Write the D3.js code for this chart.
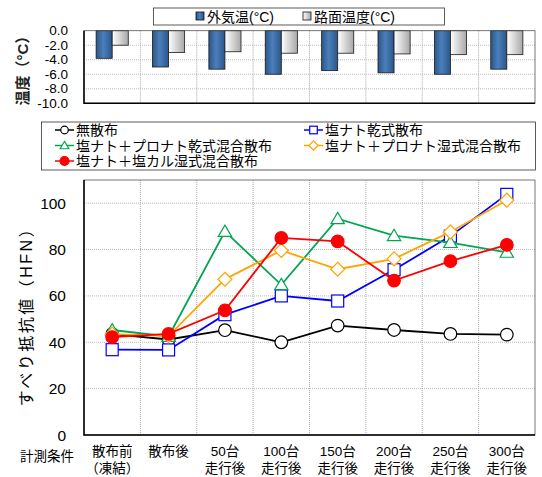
<!DOCTYPE html>
<html>
<head>
<meta charset="utf-8">
<script src="https://cdn.jsdelivr.net/npm/d3@7"></script>
<style>
  body { margin: 0; background: #fff; }
  text { font-family: "Liberation Sans", "Noto Sans CJK JP", sans-serif; }
</style>
</head>
<body>
<div id="chart"></div>
<script>
const categories = ["散布前", "散布後", "50台", "100台", "150台", "200台", "250台", "300台"];
const categories2 = ["（凍結）", "", "走行後", "走行後", "走行後", "走行後", "走行後", "走行後"];

const airTemp = [-3.8, -5.0, -5.3, -6.0, -5.5, -5.8, -6.0, -5.3];
const roadTemp = [-2.0, -3.0, -2.9, -3.1, -3.1, -3.2, -3.3, -3.3];
const tempTicks = [0, -2, -4, -6, -8, -10];

const noSpread = [43.5, 41.2, 45.2, 40.0, 47.2, 45.3, 43.6, 43.3];
const saltDry = [36.8, 36.7, 51.9, 60.0, 57.8, 71.3, 85.8, 103.8];
const saltProDry = [45.3, 42.5, 87.8, 64.8, 93.3, 86.0, 83.0, 78.8];
const saltProWet = [43.5, 42.8, 67.2, 79.6, 71.5, 76.0, 87.6, 101.3];
const saltCalWet = [42.2, 43.6, 53.8, 85.0, 83.5, 66.6, 75.0, 82.0];
const hfnTicks = [0, 20, 40, 60, 80, 100];

const series = [
  {name: "無散布", values: noSpread, color: "#000000", marker: "circle", fill: "#fff"},
  {name: "塩ナト乾式散布", values: saltDry, color: "#0000ff", marker: "square", fill: "#fff"},
  {name: "塩ナト＋プロナト乾式混合散布", values: saltProDry, color: "#00a651", marker: "triangle", fill: "#fff"},
  {name: "塩ナト＋プロナト湿式混合散布", values: saltProWet, color: "#ffa500", marker: "diamond", fill: "#fff"},
  {name: "塩ナト＋塩カル湿式混合散布", values: saltCalWet, color: "#ff0000", marker: "circle", fill: "#ff0000"}
];

const W = 542, H = 477;
const left = 84, right = 535;

const svg = d3.select("#chart").append("svg")
  .attr("width", W).attr("height", H);

const defs = svg.append("defs");
const gBlue = defs.append("linearGradient").attr("id", "gblue");
gBlue.append("stop").attr("offset", "0%").attr("stop-color", "#2c5687");
gBlue.append("stop").attr("offset", "45%").attr("stop-color", "#4a7fbd");
gBlue.append("stop").attr("offset", "100%").attr("stop-color", "#2c5687");
const gGray = defs.append("linearGradient").attr("id", "ggray");
gGray.append("stop").attr("offset", "0%").attr("stop-color", "#ffffff");
gGray.append("stop").attr("offset", "100%").attr("stop-color", "#a8a8a8");

const x = d3.scaleBand().domain(categories).range([left, right]).padding(0);

// ---- top: temperature bars ----
const yT = d3.scaleLinear().domain([-10, 0]).range([103.3, 30.7]);

const topG = svg.append("g");
topG.selectAll(".hgrid").data(tempTicks.slice(1, -1)).enter().append("line")
  .attr("x1", left).attr("x2", right)
  .attr("y1", d => yT(d)).attr("y2", d => yT(d))
  .attr("stroke", "#bbb").attr("stroke-dasharray", "1,1");
topG.selectAll(".vgrid").data(categories.slice(1)).enter().append("line")
  .attr("x1", d => x(d)).attr("x2", d => x(d))
  .attr("y1", yT(0)).attr("y2", yT(-10))
  .attr("stroke", "#aaa").attr("stroke-dasharray", "1,1");

const bw = x.bandwidth() * 0.285;
topG.selectAll(".air").data(airTemp).enter().append("rect")
  .attr("x", (d, i) => x(categories[i]) + x.bandwidth() / 2 - bw)
  .attr("y", yT(0)).attr("width", bw)
  .attr("height", d => yT(d) - yT(0))
  .attr("fill", "url(#gblue)").attr("stroke", "#1a1a1a").attr("stroke-width", 0.8);
topG.selectAll(".road").data(roadTemp).enter().append("rect")
  .attr("x", (d, i) => x(categories[i]) + x.bandwidth() / 2)
  .attr("y", yT(0)).attr("width", bw)
  .attr("height", d => yT(d) - yT(0))
  .attr("fill", "url(#ggray)").attr("stroke", "#1a1a1a").attr("stroke-width", 0.8);

topG.append("rect").attr("x", left).attr("y", yT(0))
  .attr("width", right - left).attr("height", yT(-10) - yT(0))
  .attr("fill", "none").attr("stroke", "#555").attr("stroke-width", 0.8);
topG.append("path")
  .attr("d", `M${left},${yT(0)}V${yT(-10)}H${right}`)
  .attr("fill", "none").attr("stroke", "#000").attr("stroke-width", 1.5);

topG.selectAll(".tt").data(tempTicks).enter().append("text")
  .attr("x", 68).attr("y", d => yT(d) + 4.5)
  .attr("text-anchor", "end").attr("font-size", 13.5)
  .text(d => d.toFixed(1));

topG.append("text")
  .attr("transform", `translate(28,${(yT(0) + yT(-10)) / 2}) rotate(-90)`)
  .attr("text-anchor", "middle").attr("font-size", 15).attr("font-weight", "bold")
  .attr("fill", "#222")
  .text("温度（°C）");

// top legend
const tl = svg.append("g");
tl.append("rect").attr("x", 153.5).attr("y", 8).attr("width", 291).attr("height", 17)
  .attr("fill", "#fff").attr("stroke", "#333").attr("stroke-width", 0.8);
tl.append("rect").attr("x", 196).attr("y", 12).attr("width", 8).attr("height", 8)
  .attr("fill", "url(#gblue)").attr("stroke", "#111").attr("stroke-width", 0.8);
tl.append("text").attr("x", 207).attr("y", 21.5).attr("font-size", 14).text("外気温(°C)");
tl.append("rect").attr("x", 303).attr("y", 12).attr("width", 8).attr("height", 8)
  .attr("fill", "url(#ggray)").attr("stroke", "#111").attr("stroke-width", 0.8);
tl.append("text").attr("x", 314).attr("y", 21.5).attr("font-size", 14).text("路面温度(°C)");

// ---- bottom legend ----
function drawMarker(g, type, cx, cy, color, fill, s) {
  if (type === "circle") {
    g.append("circle").attr("cx", cx).attr("cy", cy).attr("r", s)
      .attr("fill", fill).attr("stroke", color).attr("stroke-width", 1.2);
  } else if (type === "square") {
    g.append("rect").attr("x", cx - s).attr("y", cy - s).attr("width", 2 * s).attr("height", 2 * s)
      .attr("fill", fill).attr("stroke", color).attr("stroke-width", 1.2);
  } else if (type === "triangle") {
    g.append("path").attr("d", `M${cx},${cy - s * 1.1}L${cx + s * 1.15},${cy + s * 0.85}L${cx - s * 1.15},${cy + s * 0.85}Z`)
      .attr("fill", fill).attr("stroke", color).attr("stroke-width", 1.2);
  } else if (type === "diamond") {
    g.append("path").attr("d", `M${cx},${cy - s * 1.2}L${cx + s * 1.2},${cy}L${cx},${cy + s * 1.2}L${cx - s * 1.2},${cy}Z`)
      .attr("fill", fill).attr("stroke", color).attr("stroke-width", 1.2);
  }
}

const bl = svg.append("g");
bl.append("rect").attr("x", 41.5).attr("y", 122).attr("width", 494).attr("height", 48)
  .attr("fill", "#fff").attr("stroke", "#333").attr("stroke-width", 0.8);
const legPos = [[55, 130], [304, 130], [55, 145.5], [304, 145.5], [55, 161]];
series.forEach((s, i) => {
  const [lx, ly] = legPos[i];
  bl.append("line").attr("x1", lx).attr("x2", lx + 19).attr("y1", ly).attr("y2", ly)
    .attr("stroke", s.color).attr("stroke-width", 1.5);
  drawMarker(bl, s.marker, lx + 9.5, ly, s.color, s.fill, s.marker === "circle" && s.fill !== "#fff" ? 4.5 : 3.8);
  bl.append("text").attr("x", lx + 21).attr("y", ly + 5).attr("font-size", 14).text(s.name);
});

// ---- bottom: slip resistance ----
const y = d3.scaleLinear().domain([0, 110]).range([435, 180]);
const bot = svg.append("g");

bot.selectAll(".hgrid").data(hfnTicks.slice(1)).enter().append("line")
  .attr("x1", left).attr("x2", right)
  .attr("y1", d => y(d)).attr("y2", d => y(d))
  .attr("stroke", "#bbb").attr("stroke-dasharray", "1,1");
bot.selectAll(".vgrid").data(categories.slice(1)).enter().append("line")
  .attr("x1", d => x(d)).attr("x2", d => x(d))
  .attr("y1", y(0)).attr("y2", y(110))
  .attr("stroke", "#aaa").attr("stroke-dasharray", "1,1");

bot.append("rect").attr("x", left).attr("y", y(110))
  .attr("width", right - left).attr("height", y(0) - y(110))
  .attr("fill", "none").attr("stroke", "#555").attr("stroke-width", 0.8);
bot.append("path")
  .attr("d", `M${left},${y(110)}V${y(0)}H${right}`)
  .attr("fill", "none").attr("stroke", "#000").attr("stroke-width", 1.5);

const cx = i => x(categories[i]) + x.bandwidth() / 2;
const line = d3.line().x((d, i) => cx(i)).y(d => y(d));

series.forEach(s => {
  bot.append("path").datum(s.values).attr("d", line)
    .attr("fill", "none").attr("stroke", s.color).attr("stroke-width", 1.8);
  s.values.forEach((v, i) => {
    const size = s.marker === "circle" ? 6.3 : (s.marker === "square" ? 6 : 5.8);
    drawMarker(bot, s.marker, cx(i), y(v), s.color, s.fill, size);
  });
});

bot.selectAll(".yt").data(hfnTicks).enter().append("text")
  .attr("x", 66).attr("y", d => y(d) + 5.5)
  .attr("text-anchor", "end").attr("font-size", 15.5)
  .text(d => d);

bot.append("text")
  .attr("transform", `translate(32,${(y(0) + y(110)) / 2 + 5}) rotate(-90)`)
  .attr("text-anchor", "middle").attr("font-size", 16).attr("letter-spacing", 2.5)
  .text("すべり抵抗値（HFN）");

bot.selectAll(".xl1").data(categories).enter().append("text")
  .attr("x", (d, i) => cx(i)).attr("y", 456)
  .attr("text-anchor", "middle").attr("font-size", 13.5).text(d => d);
bot.selectAll(".xl2").data(categories2).enter().append("text")
  .attr("x", (d, i) => cx(i)).attr("y", 473)
  .attr("text-anchor", "middle").attr("font-size", 13.5).text(d => d);
bot.append("text").attr("x", 20).attr("y", 461).attr("font-size", 13.5).text("計測条件");
</script>
</body>
</html>
